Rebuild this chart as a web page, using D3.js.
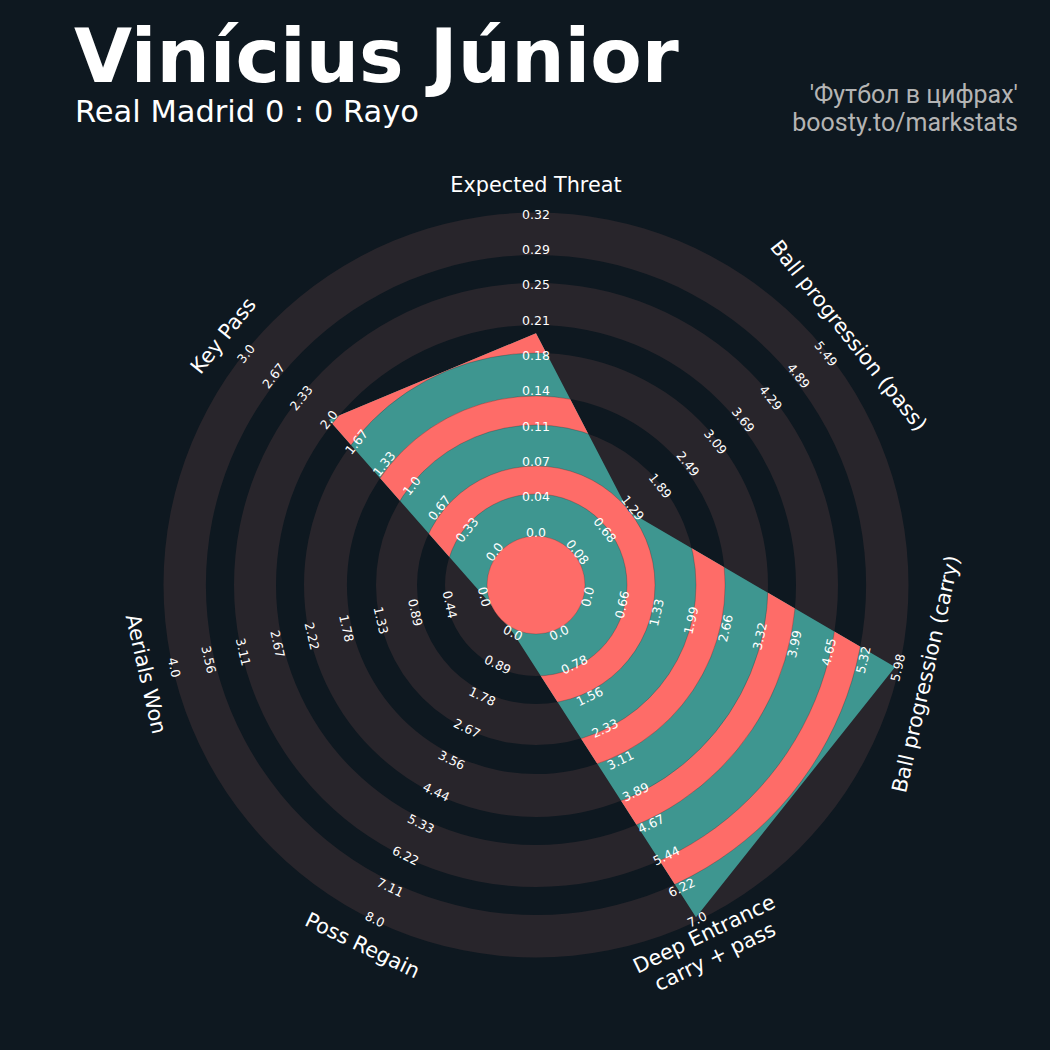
<!DOCTYPE html>
<html>
<head>
<meta charset="utf-8">
<script src="https://cdn.jsdelivr.net/npm/d3@7"></script>
<style>
  html, body { margin: 0; padding: 0; background: #0e1820; }
  svg { display: block; }
</style>
</head>
<body>
<svg id="chart" width="1050" height="1050"></svg>
<script>
// ---------------- DATA ----------------
const params = ["Expected Threat", "Ball progression (pass)", "Ball progression (carry)",
                "Deep Entrance\ncarry + pass", "Poss Regain", "Aerials Won", "Key Pass"];
const minRange = [0, 0.08, 0, 0, 0, 0, 0];
const maxRange = [0.32, 5.49, 5.98, 7.0, 8.0, 4.0, 3.0];
const playerValues = [0.20, 1.19, 5.93, 6.95, 0, 0, 2.0];
const tickLabels = [
  ["0.0","0.04","0.07","0.11","0.14","0.18","0.21","0.25","0.29","0.32"],
  ["0.08","0.68","1.29","1.89","2.49","3.09","3.69","4.29","4.89","5.49"],
  ["0.0","0.66","1.33","1.99","2.66","3.32","3.99","4.65","5.32","5.98"],
  ["0.0","0.78","1.56","2.33","3.11","3.89","4.67","5.44","6.22","7.0"],
  ["0.0","0.89","1.78","2.67","3.56","4.44","5.33","6.22","7.11","8.0"],
  ["0.0","0.44","0.89","1.33","1.78","2.22","2.67","3.11","3.56","4.0"],
  ["0.0","0.33","0.67","1.0","1.33","1.67","2.0","2.33","2.67","3.0"]
];
const title = "Vinícius Júnior";
const subtitle = "Real Madrid 0 : 0 Rayo";
const credits = ["'Футбол в цифрах'", "boosty.to/markstats"];

// ---------------- LAYOUT ----------------
const W = 1050, H = 1050;
const cx = 536, cy = 585;
const colors = { bg: "#0e1820", ring: "#28252b", teal: "#3e9690", pink: "#fe6c68", text: "#ffffff", credit: "#b4b4b4" };
const centerR = 49;
const greyBands = [[49, 91], [119, 160], [189, 232], [260, 302], [330, 372.5]];
const pinkBands = [[91, 119], [160, 189], [232, 260], [302, 330]];
const labelR = 400;

const svg = d3.select("#chart");
svg.append("rect").attr("width", W).attr("height", H).attr("fill", colors.bg);

const n = params.length;
const angleScale = d3.scaleLinear().domain([0, n]).range([0, 360]);
const rScale = d3.scaleLinear().domain([0, 1]).range([53, 371]);
const tickIdx = d3.scaleLinear().domain([0, 9]).range([0, 1]);

function pt(angleDeg, r) {
  const a = angleDeg * Math.PI / 180;
  return [cx + r * Math.sin(a), cy - r * Math.cos(a)];
}
function rot(angleDeg) {
  let r = angleDeg;
  if (r > 90 && r < 270) r -= 180;
  else if (r >= 270) r -= 360;
  return r;
}

const g = svg.append("g");
const arc = d3.arc().startAngle(0).endAngle(2 * Math.PI);

// background rings
g.selectAll("path.ring").data(greyBands).join("path")
  .attr("class", "ring")
  .attr("transform", `translate(${cx},${cy})`)
  .attr("d", d => arc({ innerRadius: d[0], outerRadius: d[1] }))
  .attr("fill", colors.ring);

// radar polygon
const polyPts = playerValues.map((v, i) => {
  const norm = (v - minRange[i]) / (maxRange[i] - minRange[i]);
  return pt(angleScale(i), rScale(norm));
});
const polyD = "M" + polyPts.map(p => p.join(",")).join("L") + "Z";

svg.append("defs").append("clipPath").attr("id", "radarClip")
  .append("path").attr("d", polyD);

g.append("path").attr("d", polyD).attr("fill", colors.teal);

const clipped = g.append("g").attr("clip-path", "url(#radarClip)");
clipped.selectAll("path.pband").data(pinkBands).join("path")
  .attr("class", "pband")
  .attr("transform", `translate(${cx},${cy})`)
  .attr("d", d => arc({ innerRadius: d[0], outerRadius: d[1] }))
  .attr("fill", colors.pink)
  .attr("stroke", "#1b1b1b").attr("stroke-width", 0.6).attr("stroke-opacity", 0.4);

// center circle
g.append("circle").attr("cx", cx).attr("cy", cy).attr("r", centerR)
  .attr("fill", colors.pink).attr("stroke", "#1b1b1b").attr("stroke-width", 0.5).attr("stroke-opacity", 0.4);

// range labels
params.forEach((p, i) => {
  const ang = angleScale(i);
  tickLabels[i].forEach((t, j) => {
    const [x, y] = pt(ang, rScale(tickIdx(j)));
    g.append("text")
      .attr("transform", `translate(${x},${y}) rotate(${rot(ang)})`)
      .attr("text-anchor", "middle")
      .attr("dominant-baseline", "central")
      .attr("font-family", "DejaVu Sans")
      .attr("font-size", 12.5)
      .attr("fill", colors.text)
      .text(t);
  });
});

// param labels
params.forEach((p, i) => {
  const ang = angleScale(i);
  const [x, y] = pt(ang, labelR);
  const lines = p.split("\n");
  const txt = g.append("text")
    .attr("transform", `translate(${x},${y}) rotate(${rot(ang)})`)
    .attr("text-anchor", "middle")
    .attr("dominant-baseline", "central")
    .attr("font-family", "DejaVu Sans")
    .attr("font-size", 20.8)
    .attr("fill", colors.text);
  lines.forEach((l, k) => {
    txt.append("tspan").attr("x", 0)
      .attr("dy", k === 0 ? `${-(lines.length - 1) * 0.6}em` : "1.2em")
      .text(l);
  });
});

// titles
svg.append("text").attr("x", 74).attr("y", 82)
  .attr("font-family", "DejaVu Sans").attr("font-weight", "bold")
  .attr("font-size", 75).attr("fill", colors.text).text(title);
svg.append("text").attr("x", 75).attr("y", 122)
  .attr("font-family", "DejaVu Sans")
  .attr("font-size", 30.5).attr("fill", colors.text).text(subtitle);
svg.selectAll("text.credit").data(credits).join("text")
  .attr("class", "credit")
  .attr("x", 1018).attr("y", (d, i) => 103 + i * 27.5)
  .attr("text-anchor", "end")
  .attr("font-family", "Roboto")
  .attr("font-size", 25).attr("fill", colors.credit).text(d => d);
</script>
</body>
</html>
